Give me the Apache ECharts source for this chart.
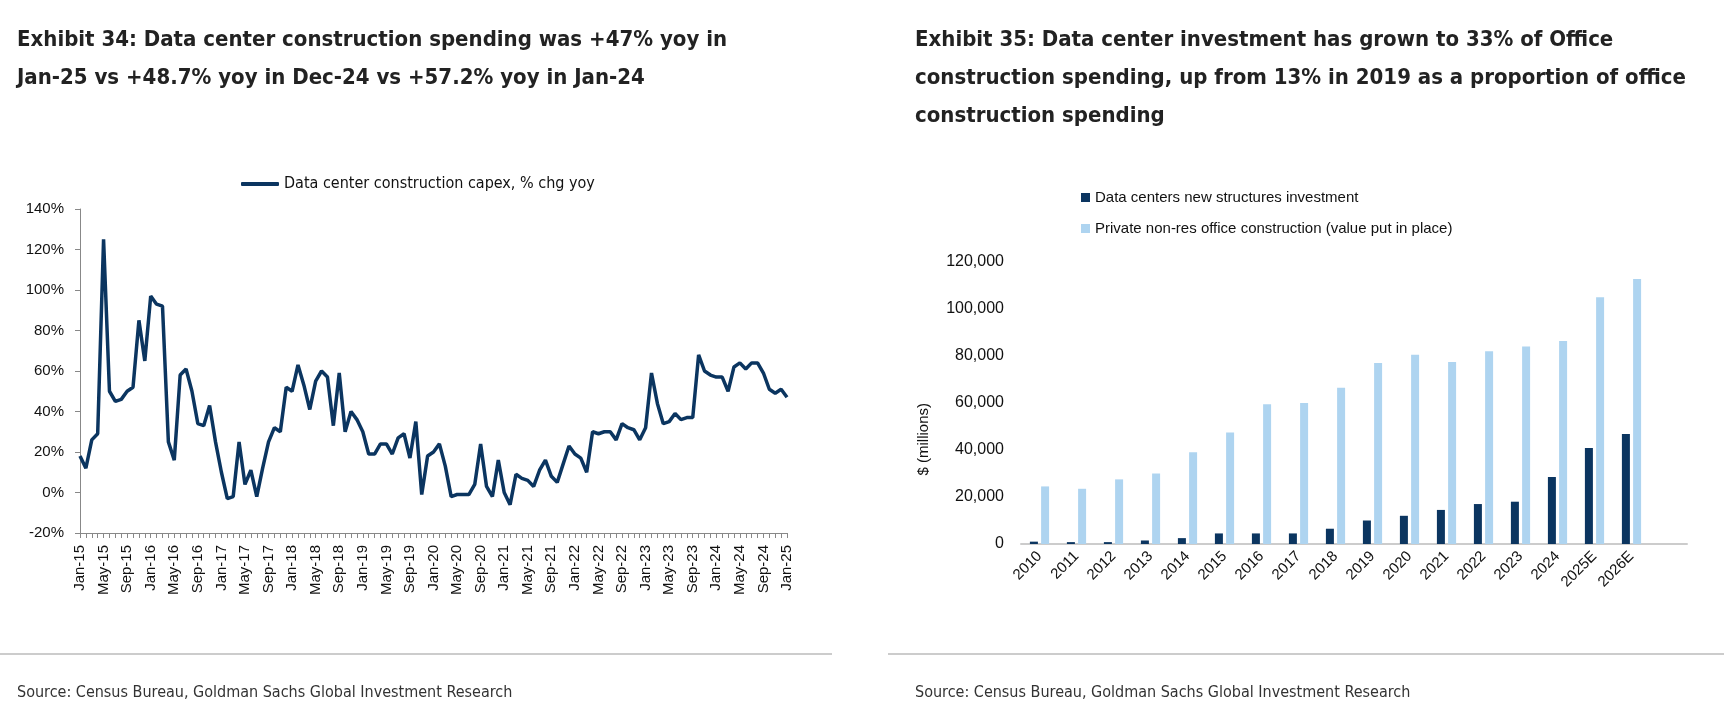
<!DOCTYPE html>
<html>
<head>
<meta charset="utf-8">
<script src="https://cdn.jsdelivr.net/npm/echarts@6/dist/echarts.min.js"></script>
<style>
  html, body { margin: 0; padding: 0; background: #fff; }
  #chart { width: 1724px; height: 702px; }
</style>
</head>
<body>
<div id="chart"></div>
<script>
// Exhibit 34: monthly yoy % change, Jan-15 .. Jan-25
var monthNames = ['Jan', 'Feb', 'Mar', 'Apr', 'May', 'Jun', 'Jul', 'Aug', 'Sep', 'Oct', 'Nov', 'Dec'];
var months = [];
for (var y = 15; y <= 25; y++) {
    for (var m = 0; m < 12; m++) {
        if (y == 25 && m > 0) break;
        months.push(monthNames[m] + '-' + y);
    }
}
var yoy2015 = [18, 12, 26, 29, 125, 50, 45, 46, 50, 52, 85, 65];
var yoy2016 = [97, 93, 92, 25, 16, 58, 61, 50, 34, 33, 43, 25];
var yoy2017 = [10, -3, -2, 25, 4, 11, -2, 12, 25, 32, 30, 52];
var yoy2018 = [50, 63, 53, 41, 55, 60, 57, 33, 59, 30, 40, 36];
var yoy2019 = [30, 19, 19, 24, 24, 19, 27, 29, 17, 35, -1, 18];
var yoy2020 = [20, 24, 13, -2, -1, -1, -1, 4, 24, 3, -2, 16];
var yoy2021 = [0, -6, 9, 7, 6, 3, 11, 16, 8, 5, 14, 23];
var yoy2022 = [19, 17, 10, 30, 29, 30, 30, 26, 34, 32, 31, 26];
var yoy2023 = [32, 59, 44, 34, 35, 39, 36, 37, 37, 68, 60, 58];
var yoy2024 = [57, 57, 50, 62, 64, 61, 64, 64, 59, 51, 49, 51];
var yoy2025 = [47];
var yoyValues = [].concat(yoy2015, yoy2016, yoy2017, yoy2018, yoy2019, yoy2020,
    yoy2021, yoy2022, yoy2023, yoy2024, yoy2025);

// Exhibit 35: annual $ millions
var years = ['2010', '2011', '2012', '2013', '2014', '2015', '2016', '2017', '2018',
    '2019', '2020', '2021', '2022', '2023', '2024', '2025E', '2026E'];
var dataCenters = [1000, 800, 800, 1500, 2500, 4500, 4500, 4500, 6500,
    10000, 12000, 14500, 17000, 18000, 28500, 40800, 46800];
var officeSpend = [24500, 23500, 27500, 30000, 39000, 47500, 59500, 60000, 66500,
    77000, 80500, 77500, 82000, 84000, 86400, 105000, 112800];

var titleFont = '"DejaVu Sans Condensed", "Liberation Sans Narrow", sans-serif';
var bodyFont = 'Liberation Sans, Arial, sans-serif';
var navy = '#0b3560';
var lightBlue = '#aed4f0';

var chart = echarts.init(document.getElementById('chart'));
var option = {
    backgroundColor: '#fff',
    animation: false,
    textStyle: { fontFamily: bodyFont },
    title: [
        {
            text: 'Exhibit 34: Data center construction spending was +47% yoy in\nJan-25 vs +48.7% yoy in Dec-24 vs +57.2% yoy in Jan-24',
            left: 12, top: 16,
            textStyle: { fontFamily: titleFont, fontWeight: 'bold', fontSize: 22, lineHeight: 38, color: '#222' }
        },
        {
            text: 'Exhibit 35: Data center investment has grown to 33% of Office\nconstruction spending, up from 13% in 2019 as a proportion of office\nconstruction spending',
            left: 910, top: 16,
            textStyle: { fontFamily: titleFont, fontWeight: 'bold', fontSize: 22, lineHeight: 38, color: '#222' }
        },
        {
            text: 'Source: Census Bureau, Goldman Sachs Global Investment Research',
            left: 12, top: 680,
            textStyle: { fontFamily: titleFont, fontWeight: 'normal', fontSize: 16, color: '#333' }
        },
        {
            text: 'Source: Census Bureau, Goldman Sachs Global Investment Research',
            left: 910, top: 680,
            textStyle: { fontFamily: titleFont, fontWeight: 'normal', fontSize: 16, color: '#333' }
        }
    ],
    graphic: [
        { type: 'line', shape: { x1: 0, y1: 654, x2: 832, y2: 654 }, style: { stroke: '#999', lineWidth: 1 } },
        { type: 'line', shape: { x1: 888, y1: 654, x2: 1724, y2: 654 }, style: { stroke: '#999', lineWidth: 1 } },
        {
            type: 'text', left: 916, top: 403, rotation: Math.PI / 2,
            style: { text: '$ (millions)', fontSize: 15, fill: '#111', fontFamily: bodyFont }
        }
    ],
    legend: [
        {
            data: ['Data center construction capex, % chg yoy'],
            left: 236, top: 171,
            itemWidth: 38, itemHeight: 4, icon: 'roundRect',
            textStyle: { fontSize: 16, color: '#111', fontFamily: titleFont }
        },
        {
            data: ['Data centers new structures investment', 'Private non-res office construction (value put in place)'],
            orient: 'vertical', left: 1076, top: 185, itemGap: 16,
            itemWidth: 9, itemHeight: 9, icon: 'rect',
            textStyle: { fontSize: 15, color: '#111', fontFamily: bodyFont }
        }
    ],
    grid: [
        { left: 80, top: 209, width: 707, height: 324 },
        { left: 1021, top: 262, width: 666, height: 282 }
    ],
    xAxis: [
        {
            type: 'category', gridIndex: 0, data: months, boundaryGap: false, position: 'bottom',
            axisLine: { show: false }, axisTick: { show: false },
            axisLabel: { interval: 3, rotate: 90, fontSize: 15, color: '#111', margin: 12 }
        },
        {
            type: 'category', gridIndex: 0, data: months, boundaryGap: false, position: 'bottom',
            axisLine: { onZero: true, lineStyle: { color: '#888', width: 1 } },
            axisTick: { interval: 0, length: 5, lineStyle: { color: '#888' } },
            axisLabel: { show: false }
        },
        {
            type: 'category', gridIndex: 1, data: years.concat(['']),
            axisLine: { lineStyle: { color: '#ccc', width: 2 } },
            axisTick: { show: false },
            axisLabel: { rotate: 45, fontSize: 15, color: '#111', margin: 10, interval: 0 }
        }
    ],
    yAxis: [
        {
            type: 'value', gridIndex: 0, min: -20, max: 140, interval: 20,
            axisLine: { show: true, lineStyle: { color: '#888' } },
            axisTick: { show: true, length: 5, lineStyle: { color: '#888' } },
            splitLine: { show: false },
            axisLabel: { formatter: '{value}%', fontSize: 15, color: '#111', margin: 16 }
        },
        {
            type: 'value', gridIndex: 1, min: 0, max: 120000, interval: 20000,
            axisLine: { show: false }, axisTick: { show: false },
            splitLine: { show: false },
            axisLabel: {
                fontSize: 16, color: '#111', margin: 17,
                formatter: function (v) { return v.toLocaleString('en-US'); }
            }
        }
    ],
    series: [
        {
            name: 'Data center construction capex, % chg yoy',
            type: 'line', xAxisIndex: 0, yAxisIndex: 0,
            data: yoyValues, symbol: 'none',
            lineStyle: { color: navy, width: 3.5 },
            itemStyle: { color: navy }
        },
        {
            name: 'Data centers new structures investment',
            type: 'bar', xAxisIndex: 2, yAxisIndex: 1,
            data: dataCenters, barWidth: 8, barGap: '40%',
            itemStyle: { color: navy }
        },
        {
            name: 'Private non-res office construction (value put in place)',
            type: 'bar', xAxisIndex: 2, yAxisIndex: 1,
            data: officeSpend, barWidth: 8,
            itemStyle: { color: lightBlue }
        }
    ]
};
chart.setOption(option);
</script>
</body>
</html>
